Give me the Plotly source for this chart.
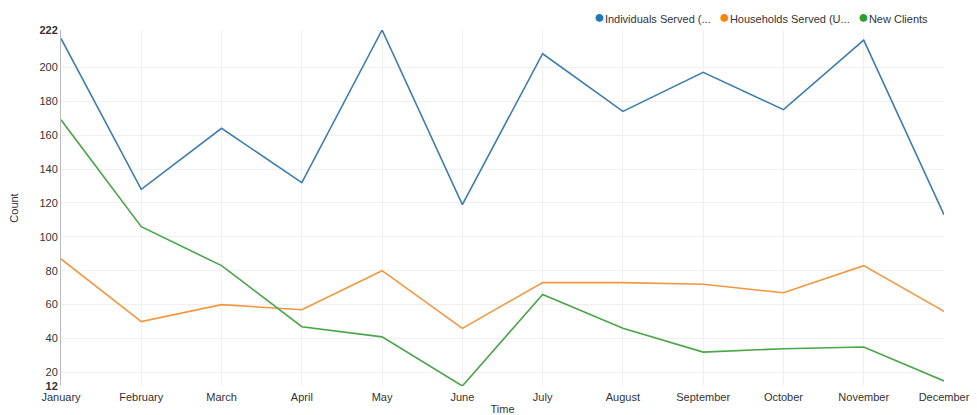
import plotly.graph_objects as go

months = ["January", "February", "March", "April", "May", "June", "July",
          "August", "September", "October", "November", "December"]
individuals = [217, 128, 164, 132, 222, 119, 208, 174, 197, 175, 216, 113]
households = [87, 50, 60, 57, 80, 46, 73, 73, 72, 67, 83, 56]
new_clients = [169, 106, 83, 47, 41, 12, 66, 46, 32, 34, 35, 15]

series_names = ["Individuals Served (...", "Households Served (U...", "New Clients"]
line_colors = ["#3d7eae", "#f2973f", "#4aa54a"]
legend_colors = ["#1f77b4", "#ff7f0e", "#2ca02c"]
legend_x_px = [592, 717, 856]

y_ticks = [12, 20, 40, 60, 80, 100, 120, 140, 160, 180, 200, 222]
y_ticktext = ["<b>12</b>"] + [str(v) for v in y_ticks[1:-1]] + ["<b>222</b>"]

W, H = 977, 415
ML, MR, MT, MB = 61, 33, 30, 29
PW, PH = W - ML - MR, H - MT - MB

fig = go.Figure()
for name, vals, lc in zip(series_names, [individuals, households, new_clients], line_colors):
    fig.add_trace(go.Scatter(x=months, y=vals, mode="lines", name=name,
                             line=dict(color=lc, width=1.6), showlegend=False))

annotations = []
for name, lc, px in zip(series_names, legend_colors, legend_x_px):
    annotations.append(dict(
        xref="paper", yref="paper",
        x=(px - ML) / PW, y=(H - MB - 17) / PH,
        xanchor="left", yanchor="middle", showarrow=False,
        text=f"<span style='color:{lc};font-size:18px'>●</span>{name}",
        font=dict(size=11, color="#333"),
    ))

font = "Arial, Liberation Sans, sans-serif"
fig.update_layout(
    width=W, height=H,
    margin=dict(l=ML, r=MR, t=MT, b=MB),
    paper_bgcolor="white", plot_bgcolor="white",
    font=dict(family=font, size=11, color="#333"),
    showlegend=False,
    annotations=annotations,
    xaxis=dict(range=[0, 11], showgrid=True, gridcolor="#f0f0f0", zeroline=False,
               showline=False, ticks="", tickfont=dict(size=11, color="#333"),
               ticklabelstandoff=3,
               title=dict(text="Time", font=dict(size=11, color="#333"), standoff=11),
               automargin=False),
    yaxis=dict(range=[12, 222], tickvals=y_ticks, ticktext=y_ticktext,
               showgrid=True, gridcolor="#f0f0f0", zeroline=False,
               showline=True, linecolor="#bbb", linewidth=1, ticks="",
               tickfont=dict(size=11, color="#333"),
               title=dict(text="Count", font=dict(size=11, color="#333"), standoff=18),
               automargin=False),
)
fig.write_html("out.html", config={"displayModeBar": False},
               post_script="document.body.style.margin='0';document.body.style.overflow='hidden';")
